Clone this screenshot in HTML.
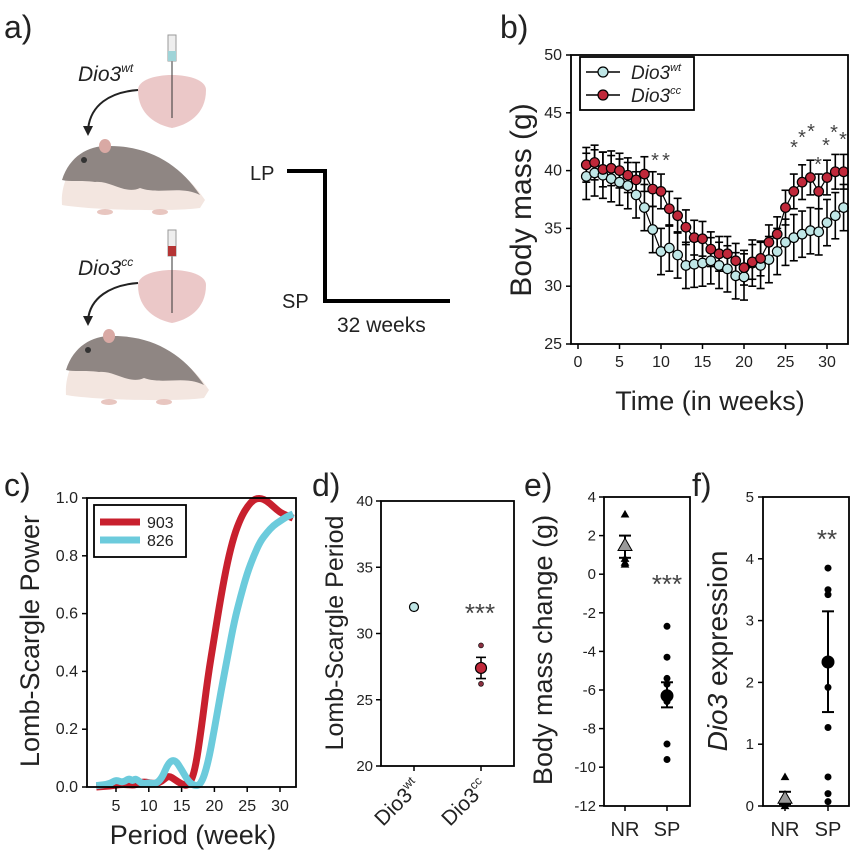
<!DOCTYPE html>
<html><head><meta charset="utf-8">
<style>
html,body{margin:0;padding:0;background:#fff;}
svg{display:block;font-family:"Liberation Sans",Arial,sans-serif;}
</style></head>
<body>
<svg id="s" width="860" height="859" viewBox="0 0 860 859" xmlns="http://www.w3.org/2000/svg">
<rect width="860" height="859" fill="#fff"/>
<text x="4" y="38" font-size="32" fill="#222">a)</text>
<text x="500" y="38" font-size="32" fill="#222">b)</text>
<text x="4" y="496" font-size="32" fill="#222">c)</text>
<text x="312" y="496" font-size="32" fill="#222">d)</text>
<text x="524" y="496" font-size="32" fill="#222">e)</text>
<text x="692" y="496" font-size="32" fill="#222">f)</text>

<g id="ill">
  <text x="78" y="81" font-size="21" font-style="italic" fill="#222">Dio3<tspan font-size="12" dy="-9">wt</tspan></text>
  <text x="78" y="275" font-size="21" font-style="italic" fill="#222">Dio3<tspan font-size="12" dy="-9">cc</tspan></text>
</g>
<text x="250" y="180" font-size="20" fill="#222">LP</text>
<text x="282" y="308" font-size="20" fill="#222">SP</text>
<text x="337" y="332" font-size="21" fill="#222">32 weeks</text>
<polyline points="287,171 325,171 325,301 450,301" fill="none" stroke="#000" stroke-width="4"/>

<g id="b"></g>
<g id="c"></g>
<g id="d"></g>
<g id="e"></g>
<g id="f"></g>
</svg>
<script>
const NS="http://www.w3.org/2000/svg";
function el(p,t,a,txt){const e=document.createElementNS(NS,t);for(const k in a)e.setAttribute(k,a[k]);if(txt!==undefined)e.textContent=txt;p.appendChild(e);return e;}
const I=document.getElementById('ill');
function hamster(ox,oy){
  el(I,'path',{d:`M${ox+62},${oy+65} C${ox+60},${oy+35} ${ox+80},${oy+10} ${ox+110},${oy+8} C${ox+150},${oy+5} ${ox+185},${oy+30} ${ox+205},${oy+60} L${ox+200},${oy+68} C${ox+170},${oy+72} ${ox+90},${oy+70} ${ox+62},${oy+65}Z`,fill:'#f3e6e0'});
  el(I,'path',{d:`M${ox+62},${oy+40} C${ox+70},${oy+15} ${ox+90},${oy+5} ${ox+110},${oy+6} C${ox+150},${oy+6} ${ox+180},${oy+25} ${ox+200},${oy+55} C${ox+180},${oy+45} ${ox+160},${oy+55} ${ox+140},${oy+48} C${ox+125},${oy+55} ${ox+110},${oy+40} ${ox+95},${oy+42} C${ox+80},${oy+40} ${ox+70},${oy+42} ${ox+62},${oy+40}Z`,fill:'#8f8683'});
  el(I,'circle',{cx:ox+84,cy:oy+20,r:3,fill:'#333'});
  el(I,'ellipse',{cx:ox+105,cy:oy+6,rx:6,ry:7,fill:'#d9a9a4'});
  el(I,'ellipse',{cx:ox+105,cy:oy+72,rx:8,ry:3,fill:'#e8c6c0'});
  el(I,'ellipse',{cx:ox+160,cy:oy+72,rx:8,ry:3,fill:'#e8c6c0'});
}
hamster(0,140);hamster(4,330);
function brain(cx,cy){el(I,'path',{d:`M${cx-34},${cy-10} C${cx-34},${cy-30} ${cx+34},${cy-30} ${cx+34},${cy-10} C${cx+34},${cy+15} ${cx+15},${cy+25} ${cx},${cy+28} C${cx-15},${cy+25} ${cx-34},${cy+15} ${cx-34},${cy-10}Z`,fill:'#ebc8c8'});
 el(I,'line',{x1:cx,y1:cy-60,x2:cx,y2:cy+18,stroke:'#333','stroke-width':1});}
brain(172,100);brain(172,295);
[[172,35,'#9fd4d8'],[172,230,'#b53535']].forEach(([x,y,c])=>{el(I,'rect',{x:x-4,y:y,width:8,height:26,fill:'#eee',stroke:'#999','stroke-width':1});el(I,'rect',{x:x-4,y:y+16,width:8,height:10,fill:c});});
el(I,'path',{d:'M138,90 C110,92 90,105 88,130',fill:'none',stroke:'#222','stroke-width':2});
el(I,'path',{d:'M83,126 L88,136 L93,126Z',fill:'#222'});
el(I,'path',{d:'M138,283 C110,285 90,298 88,320',fill:'none',stroke:'#222','stroke-width':2});
el(I,'path',{d:'M83,316 L88,326 L93,316Z',fill:'#222'});

const TK=16;
// panel b
const B=document.getElementById('b');
const bx=w=>578+8.3*w, by=v=>55+(50-v)*11.56;
const wt=[39.5,39.8,39.6,39.3,39.0,38.7,37.9,36.8,34.9,33.0,33.3,32.7,31.8,31.9,32.0,32.2,31.8,31.5,30.9,30.8,32.0,31.8,32.3,33.0,33.8,34.2,34.5,34.8,34.7,35.5,36.1,36.8];
const cc=[40.5,40.7,40.1,40.2,40.0,39.6,39.2,39.7,38.4,38.2,36.7,36.1,35.1,34.2,34.1,33.2,32.8,32.8,32.2,31.6,32.1,32.4,33.8,34.5,36.8,38.2,39.0,39.4,38.2,39.4,39.9,39.9];
function errs(arr,e){arr.forEach((v,i)=>{const x=bx(i+1);el(B,'line',{x1:x,y1:by(v-e),x2:x,y2:by(v+e),stroke:'#000','stroke-width':1.6});[v-e,v+e].forEach(t=>el(B,'line',{x1:x-4,y1:by(t),x2:x+4,y2:by(t),stroke:'#000','stroke-width':1.6}));});}
errs(wt,2.0);errs(cc,1.5);
function series(arr,f){el(B,'polyline',{points:arr.map((v,i)=>bx(i+1)+','+by(v)).join(' '),fill:'none',stroke:'#000','stroke-width':1.2});arr.forEach((v,i)=>el(B,'circle',{cx:bx(i+1),cy:by(v),r:4.8,fill:f,stroke:'#000','stroke-width':1.2}));}
series(wt,'#bfe6e6');series(cc,'#c0283a');
el(B,'rect',{x:571,y:55,width:277,height:289,fill:'none',stroke:'#000','stroke-width':1.8});
for(let v=25;v<=50;v+=5){el(B,'line',{x1:566,y1:by(v),x2:571,y2:by(v),stroke:'#000','stroke-width':1.5});el(B,'text',{x:562,y:by(v)+5,'font-size':TK,'text-anchor':'end',fill:'#222'},v);}
for(let w=0;w<=30;w+=5){el(B,'line',{x1:bx(w),y1:344,x2:bx(w),y2:349,stroke:'#000','stroke-width':1.5});el(B,'text',{x:bx(w),y:367,'font-size':TK,'text-anchor':'middle',fill:'#222'},w);}
el(B,'text',{x:710,y:410,'font-size':27,'text-anchor':'middle',fill:'#222'},'Time (in weeks)');
el(B,'text',{x:0,y:0,'font-size':30,'text-anchor':'middle',fill:'#222',transform:'translate(531,200) rotate(-90)'},'Body mass (g)');
el(B,'rect',{x:580,y:57,width:114,height:53,fill:'#fff',stroke:'#000','stroke-width':1.8});
[[72,'#bfe6e6','wt'],[95,'#c0283a','cc']].forEach(([y,f,s])=>{el(B,'line',{x1:586,y1:y,x2:620,y2:y,stroke:'#000','stroke-width':1.5});el(B,'circle',{cx:603,cy:y,r:5,fill:f,stroke:'#000','stroke-width':1.2});const t=el(B,'text',{x:631,y:y+7,'font-size':19,'font-style':'italic',fill:'#222'},'Dio3');el(t,'tspan',{'font-size':11,dy:-8},s);});
[[655,167],[666,167],[794,154],[802,144],[811,138],[818,171],[826,152],[834,139],[843,146]].forEach(([x,y])=>el(B,'text',{x:x,y:y,'font-size':20,'text-anchor':'middle',fill:'#444'},'*'));

// panel c
const C=document.getElementById('c');
const cxp=p=>83.2+6.56*p, cyv=v=>787-289*v;
const red=[[2,0],[4,0.003],[6,0.01],[8,0.005],[9,0.02],[11,0.01],[12,0.02],[13,0.04],[14,0.025],[15,0.01],[16,0.003],[17,0.05],[18,0.2],[19,0.38],[20,0.52],[21,0.66],[22,0.78],[23,0.87],[24,0.93],[25,0.97],[26,0.995],[27,1.0],[28,0.99],[29,0.97],[30,0.95],[31,0.94],[32,0.93]];
const cy=[[2,0.005],[4,0.01],[5,0.025],[6,0.015],[7,0.03],[7.5,0.02],[8,0.03],[9,0.01],[10,0.015],[11,0.01],[12,0.03],[13,0.085],[14,0.095],[15,0.06],[16,0.02],[17,0.003],[18,0.01],[19,0.08],[20,0.2],[21,0.33],[22,0.45],[23,0.57],[24,0.66],[25,0.74],[26,0.8],[27,0.85],[28,0.88],[29,0.905],[30,0.92],[31,0.935],[32,0.945]];
function curve(d,c){let s='M'+cxp(d[0][0])+','+cyv(d[0][1]);for(let i=1;i<d.length;i++){const p0=d[i-1],p1=d[i];const mx=(cxp(p0[0])+cxp(p1[0]))/2;s+=` Q${cxp(p0[0])},${cyv(p0[1])} ${mx},${(cyv(p0[1])+cyv(p1[1]))/2}`;}s+=` L${cxp(d[d.length-1][0])},${cyv(d[d.length-1][1])}`;el(C,'path',{d:s,fill:'none',stroke:c,'stroke-width':7,'stroke-linejoin':'round'});}
curve(red,'#c8202e');curve(cy,'#6ccbdc');
el(C,'rect',{x:87,y:498,width:209,height:289,fill:'none',stroke:'#000','stroke-width':1.8});
for(let i=0;i<=5;i++){const v=i*0.2;el(C,'line',{x1:82,y1:cyv(v),x2:87,y2:cyv(v),stroke:'#000','stroke-width':1.5});el(C,'text',{x:78,y:cyv(v)+5,'font-size':TK,'text-anchor':'end',fill:'#222'},v.toFixed(1));}
for(let p=5;p<=30;p+=5){el(C,'line',{x1:cxp(p),y1:787,x2:cxp(p),y2:792,stroke:'#000','stroke-width':1.5});el(C,'text',{x:cxp(p),y:811,'font-size':TK,'text-anchor':'middle',fill:'#222'},p);}
el(C,'text',{x:193,y:844,'font-size':27,'text-anchor':'middle',fill:'#222'},'Period (week)');
el(C,'text',{x:0,y:0,'font-size':27,'text-anchor':'middle',fill:'#222',transform:'translate(39,641) rotate(-90)'},'Lomb-Scargle Power');
el(C,'rect',{x:94,y:505,width:92,height:52,fill:'#fff',stroke:'#000','stroke-width':1.8});
el(C,'line',{x1:100,y1:522,x2:140,y2:522,stroke:'#c8202e','stroke-width':7});
el(C,'line',{x1:100,y1:540,x2:140,y2:540,stroke:'#6ccbdc','stroke-width':7});
el(C,'text',{x:147,y:528,'font-size':16,fill:'#222'},'903');
el(C,'text',{x:147,y:546,'font-size':16,fill:'#222'},'826');

// panel d
const D=document.getElementById('d');
const dy=v=>501+(40-v)*13.25;
el(D,'rect',{x:381,y:501,width:133,height:265,fill:'none',stroke:'#000','stroke-width':1.8});
for(let v=20;v<=40;v+=5){el(D,'line',{x1:376,y1:dy(v),x2:381,y2:dy(v),stroke:'#000','stroke-width':1.5});el(D,'text',{x:373,y:dy(v)+5,'font-size':15,'text-anchor':'end',fill:'#222'},v);}
[414,481].forEach(x=>el(D,'line',{x1:x,y1:766,x2:x,y2:771,stroke:'#000','stroke-width':1.5}));
el(D,'text',{x:0,y:0,'font-size':25,'text-anchor':'middle',fill:'#222',transform:'translate(343,633) rotate(-90)'},'Lomb-Scargle Period');
el(D,'circle',{cx:414,cy:dy(32),r:4.5,fill:'#bfe6e6',stroke:'#000','stroke-width':1.2});
el(D,'line',{x1:481,y1:dy(28.2),x2:481,y2:dy(26.6),stroke:'#000','stroke-width':1.6});
[28.2,26.6].forEach(v=>el(D,'line',{x1:476,y1:dy(v),x2:486,y2:dy(v),stroke:'#000','stroke-width':1.6}));
[29.1,26.2].forEach(v=>el(D,'circle',{cx:481,cy:dy(v),r:2.5,fill:'#8a3040',stroke:'#000','stroke-width':0.6}));
el(D,'circle',{cx:481,cy:dy(27.4),r:5.5,fill:'#c0283a',stroke:'#000','stroke-width':1.2});
el(D,'text',{x:480,y:622,'font-size':26,'text-anchor':'middle',fill:'#444'},'***');
[[414,'wt'],[481,'cc']].forEach(([x,s])=>{const t=el(D,'text',{x:0,y:0,'font-size':21,'text-anchor':'end',fill:'#222',transform:`translate(${x+8},${788}) rotate(-45)`},'Dio3');el(t,'tspan',{'font-size':12,dy:-9},s);});

// panel e
const E=document.getElementById('e');
const ey=v=>497+(4-v)*19.3;
el(E,'rect',{x:604,y:497,width:86,height:309,fill:'none',stroke:'#000','stroke-width':1.8});
for(let v=-12;v<=4;v+=2){el(E,'line',{x1:599,y1:ey(v),x2:604,y2:ey(v),stroke:'#000','stroke-width':1.5});el(E,'text',{x:596,y:ey(v)+5,'font-size':15,'text-anchor':'end',fill:'#222'},v);}
[625,667].forEach(x=>el(E,'line',{x1:x,y1:806,x2:x,y2:811,stroke:'#000','stroke-width':1.5}));
el(E,'text',{x:625,y:836,'font-size':20,'text-anchor':'middle',fill:'#222'},'NR');
el(E,'text',{x:667,y:836,'font-size':20,'text-anchor':'middle',fill:'#222'},'SP');
el(E,'text',{x:0,y:0,'font-size':27,'text-anchor':'middle',fill:'#222',transform:'translate(552,650) rotate(-90)'},'Body mass change (g)');
function tri(p,x,y,s,f){el(p,'path',{d:`M${x},${y-s} L${x+s},${y+s*0.75} L${x-s},${y+s*0.75}Z`,fill:f,stroke:'#000','stroke-width':1});}
function errbar(p,x,a,b,yf){el(p,'line',{x1:x,y1:yf(a),x2:x,y2:yf(b),stroke:'#000','stroke-width':2});[a,b].forEach(v=>el(p,'line',{x1:x-6,y1:yf(v),x2:x+6,y2:yf(v),stroke:'#000','stroke-width':2}));}
[3.1,0.8,0.5,0.6].forEach(v=>tri(E,625,ey(v),3.5,'#000'));
errbar(E,625,2.0,0.85,ey);tri(E,625,ey(1.5),7,'#999');
[-2.7,-4.3,-5.4,-5.7,-6.6,-8.8,-9.6].forEach(v=>el(E,'circle',{cx:667,cy:ey(v),r:3.5,fill:'#000'}));
errbar(E,667,-5.6,-6.9,ey);el(E,'circle',{cx:667,cy:ey(-6.3),r:6.5,fill:'#000'});
el(E,'text',{x:667,y:593,'font-size':26,'text-anchor':'middle',fill:'#444'},'***');

// panel f
const F=document.getElementById('f');
const fy=v=>806-61.8*v;
el(F,'rect',{x:763,y:497,width:86,height:309,fill:'none',stroke:'#000','stroke-width':1.8});
for(let v=0;v<=5;v++){el(F,'line',{x1:758,y1:fy(v),x2:763,y2:fy(v),stroke:'#000','stroke-width':1.5});el(F,'text',{x:754,y:fy(v)+5,'font-size':15,'text-anchor':'end',fill:'#222'},v);}
[785,828].forEach(x=>el(F,'line',{x1:x,y1:806,x2:x,y2:811,stroke:'#000','stroke-width':1.5}));
el(F,'text',{x:785,y:836,'font-size':20,'text-anchor':'middle',fill:'#222'},'NR');
el(F,'text',{x:828,y:836,'font-size':20,'text-anchor':'middle',fill:'#222'},'SP');
const ft=el(F,'text',{x:0,y:0,'font-size':28,'text-anchor':'middle',fill:'#222',transform:'translate(727,651) rotate(-90)'});
el(ft,'tspan',{'font-style':'italic'},'Dio3');el(ft,'tspan',{},' expression');
[0.47,0.1,0.05,0.0].forEach(v=>tri(F,785,fy(v),3.5,'#000'));
errbar(F,785,0.23,0.03,fy);tri(F,785,fy(0.13),7,'#999');
[3.85,3.5,3.42,1.92,1.27,0.47,0.2,0.07].forEach(v=>el(F,'circle',{cx:828,cy:fy(v),r:3.5,fill:'#000'}));
errbar(F,828,3.15,1.52,fy);el(F,'circle',{cx:828,cy:fy(2.33),r:6.5,fill:'#000'});
el(F,'text',{x:827,y:548,'font-size':26,'text-anchor':'middle',fill:'#444'},'**');
</script>
</body></html>
